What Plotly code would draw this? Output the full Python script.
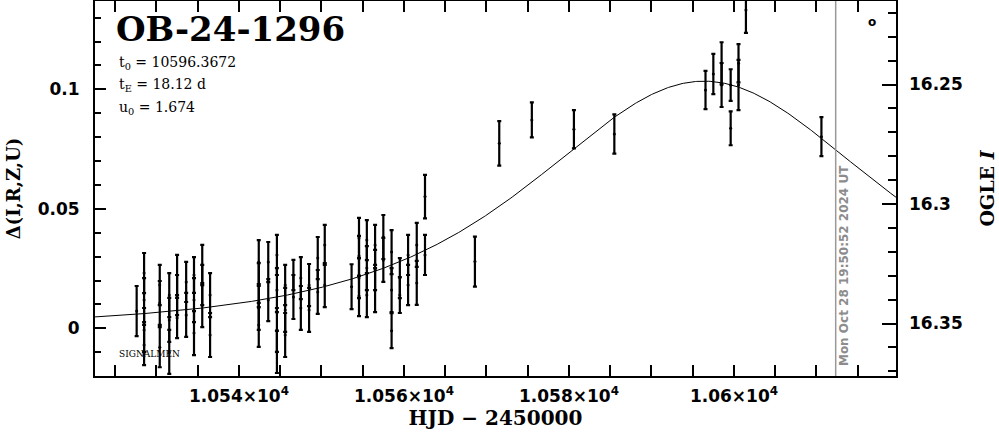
import numpy as np
import plotly.graph_objects as go

# ---------------- data ----------------
event_name = "OB-24-1296"
t0 = 10596.3672
tE = 18.12
u0 = 1.674
now_hjd = 10612.33
now_label = "Mon Oct 28 19:50:52 2024 UT"
mag_base = 16.352

hjd = [
    10527.6,
    10528.5, 10528.5, 10528.5, 10528.5,
    10530.4, 10530.4, 10530.4,
    10531.55, 10531.55, 10531.55,
    10532.5, 10532.5, 10532.5,
    10533.6, 10533.6,
    10534.55, 10534.55, 10534.55,
    10535.55, 10535.55, 10535.55,
    10536.5, 10536.5,
    10542.4, 10542.4, 10542.4, 10542.4,
    10543.55, 10543.55,
    10544.6, 10544.6, 10544.6, 10544.6,
    10545.6, 10545.6, 10545.6,
    10546.6, 10546.6,
    10547.5, 10547.5,
    10548.5, 10548.5,
    10549.55, 10549.55,
    10550.4, 10550.4,
    10553.65,
    10554.55, 10554.55, 10554.55, 10554.55,
    10555.5, 10555.5, 10555.5,
    10556.5, 10556.5, 10556.5,
    10557.5, 10557.5,
    10558.5, 10558.5, 10558.5,
    10559.5, 10559.5,
    10560.5, 10560.5,
    10561.55, 10561.55,
    10562.55, 10562.55,
    10568.6, 10571.55, 10575.5, 10580.6, 10585.5,
    10596.55, 10597.5, 10598.5, 10598.5, 10599.6, 10599.6,
    10600.55, 10600.55, 10601.45, 10610.6,
]
delta = [
    0.0072,
    0.0231, 0.0118, -0.0007, -0.0070,
    0.0181, 0.0106, -0.0079,
    0.0139, 0.0035, -0.0099,
    0.0223, 0.0139, 0.0043,
    0.0194, 0.0056,
    0.0223, 0.0118, -0.0020,
    0.0265, 0.0181, 0.0097,
    0.0139, -0.0028,
    0.0277, 0.0181, 0.0085, 0.0014,
    0.0277, 0.0118,
    0.0307, 0.0160, -0.0007, -0.0099,
    0.0181, 0.0077, -0.0028,
    0.0223, 0.0131,
    0.0210, 0.0085,
    0.0181, 0.0077,
    0.0294, 0.0152,
    0.0349, 0.0181,
    0.0174,
    0.0378, 0.0303, 0.0210, 0.0135,
    0.0369, 0.0252, 0.0139,
    0.0349, 0.0244, 0.0160,
    0.0382, 0.0286,
    0.0319, 0.0160, -0.0010,
    0.0210, 0.0139,
    0.0307, 0.0181,
    0.0349, 0.0190,
    0.0307, 0.0551,
    0.0279, 0.0774, 0.0872, 0.0833, 0.0813,
    0.0997, 0.1064, 0.1109, 0.1018, 0.1018, 0.0837,
    0.1109, 0.1018, 0.1332, 0.0802,
]
err = [
    0.0105,
    0.0084, 0.0092, 0.0092, 0.0084,
    0.0084, 0.0092, 0.0084,
    0.0092, 0.0092, 0.0092,
    0.0084, 0.0084, 0.0084,
    0.0084, 0.0092,
    0.0075, 0.0092, 0.0092,
    0.0084, 0.0084, 0.0092,
    0.0092, 0.0092,
    0.0092, 0.0092, 0.0092, 0.0092,
    0.0084, 0.0088,
    0.0084, 0.0092, 0.0092, 0.0088,
    0.0084, 0.0092, 0.0092,
    0.0063, 0.0092,
    0.0088, 0.0092,
    0.0088, 0.0092,
    0.0088, 0.0092,
    0.0084, 0.0092,
    0.0094,
    0.0084, 0.0084, 0.0084, 0.0084,
    0.0084, 0.0092, 0.0092,
    0.0084, 0.0084, 0.0092,
    0.0092, 0.0092,
    0.0092, 0.0092, 0.0073,
    0.0084, 0.0075,
    0.0084, 0.0084,
    0.0092, 0.0092,
    0.0084, 0.0091,
    0.0105, 0.0093, 0.0073, 0.0080, 0.0082,
    0.0080, 0.0084, 0.0088, 0.0092, 0.0066, 0.0071,
    0.0080, 0.0105, 0.0096, 0.0082,
]

x_range = [10522.55, 10619.64]
y_range = [-0.01996, 0.13695]
x_tickvals = [10540, 10560, 10580, 10600]
x_ticktext = ["1.054×10<sup>4</sup>", "1.056×10<sup>4</sup>",
              "1.058×10<sup>4</sup>", "1.06×10<sup>4</sup>"]
y_tickvals = [0, 0.05, 0.1]
y_ticktext = ["0", "0.05", "0.1"]
y2_tickvals = [16.25, 16.3, 16.35]
y2_ticktext = ["16.25", "16.3", "16.35"]

# ---------------- model (Paczynski curve from the stated parameters) ----------------
tm = np.linspace(x_range[0], x_range[1], 600)
u = np.sqrt(u0 ** 2 + ((tm - t0) / tE) ** 2)
A = (u ** 2 + 2) / (u * np.sqrt(u ** 2 + 4))
model = 2.5 * np.log10(A)

TICKFONT = dict(family="DejaVu Sans", size=17, color="black", weight="bold")
SERIF = "DejaVu Serif"

fig = go.Figure()
fig.add_trace(go.Scatter(
    x=tm, y=model, mode="lines",
    line=dict(color="black", width=1), hoverinfo="skip", showlegend=False,
))
fig.add_trace(go.Scatter(
    x=hjd, y=delta, mode="markers",
    marker=dict(color="black", size=3),
    error_y=dict(type="data", array=err, visible=True,
                 color="black", thickness=2.2, width=2),
    showlegend=False,
))
# invisible trace to activate the magnitude axis
fig.add_trace(go.Scatter(
    x=[x_range[0]], y=[mag_base], yaxis="y2", mode="markers",
    marker=dict(opacity=0), hoverinfo="skip", showlegend=False,
))

fig.add_shape(type="line", xref="x", yref="paper",
              x0=now_hjd, x1=now_hjd, y0=0, y1=1,
              line=dict(color="#999999", width=1.5))

fig.add_annotation(x=now_hjd, xref="x", y=0.295, yref="paper",
                   text=now_label, textangle=-90, showarrow=False,
                   xanchor="center", yanchor="middle", xshift=9,
                   font=dict(family="DejaVu Sans", size=12, color="#8c8c8c",
                             weight="bold"))

fig.add_annotation(x=0.024, xref="paper", y=0.925, yref="paper",
                   text=event_name, showarrow=False, xanchor="left",
                   yanchor="middle",
                   font=dict(family=SERIF, size=34, color="black",
                             weight="bold"))

param_lines = [
    f"t<sub>0</sub> = {t0:.4f}",
    f"t<sub>E</sub> = {tE:.2f} d",
    f"u<sub>0</sub> = {u0:.3f}",
]
for i, txt in enumerate(param_lines):
    fig.add_annotation(x=0.0275, xref="paper", y=0.835 - i * 0.06, yref="paper",
                       text=txt, showarrow=False, xanchor="left",
                       yanchor="middle",
                       font=dict(family=SERIF, size=14, color="black"))

fig.add_annotation(x=0.028, xref="paper", y=0.058, yref="paper",
                   text="SIGNALMEN", showarrow=False, xanchor="left",
                   yanchor="middle",
                   font=dict(family=SERIF, size=9, color="black"))

fig.add_annotation(x=0.970, xref="paper", y=0.945, yref="paper",
                   text="o", showarrow=False, xanchor="center",
                   yanchor="middle",
                   font=dict(family="DejaVu Sans", size=12, color="black",
                             weight="bold"))

fig.update_layout(
    width=999, height=434,
    margin=dict(l=95, r=103, t=1, b=58, autoexpand=False),
    paper_bgcolor="white", plot_bgcolor="white",
    xaxis=dict(
        range=x_range, tickvals=x_tickvals, ticktext=x_ticktext,
        ticks="inside", ticklen=11, tickwidth=2, tickcolor="black",
        showline=True, linecolor="black", linewidth=2, mirror="allticks",
        showgrid=False, zeroline=False, tickfont=TICKFONT,
        ticklabelstandoff=4,
        minor=dict(dtick=5, tick0=10540, ticks="inside", ticklen=6,
                   tickwidth=2, tickcolor="black", showgrid=False),
        title=dict(text="HJD − 2450000", standoff=6,
                   font=dict(family=SERIF, size=20, color="black",
                             weight="bold")),
    ),
    yaxis=dict(
        range=y_range, tickvals=y_tickvals, ticktext=y_ticktext,
        ticks="inside", ticklen=11, tickwidth=2, tickcolor="black",
        showline=True, linecolor="black", linewidth=2, mirror=True,
        showgrid=False, zeroline=False, tickfont=TICKFONT,
        ticklabelstandoff=10,
        minor=dict(dtick=0.01, tick0=0, ticks="inside", ticklen=6,
                   tickwidth=2, tickcolor="black", showgrid=False),
        title=dict(text="Δ(I,R,Z,U)", standoff=12,
                   font=dict(family=SERIF, size=18, color="black",
                             weight="bold")),
    ),
    yaxis2=dict(
        overlaying="y", side="right",
        range=[mag_base - y_range[0], mag_base - y_range[1]],
        tickvals=y2_tickvals, ticktext=y2_ticktext,
        ticks="inside", ticklen=14, tickwidth=2, tickcolor="black",
        showline=False, showgrid=False, zeroline=False, tickfont=TICKFONT,
        ticklabelstandoff=12,
        minor=dict(dtick=0.01, tick0=16.25, ticks="inside", ticklen=8,
                   tickwidth=2, tickcolor="black", showgrid=False),
        title=dict(text="OGLE <i>I</i>", standoff=18,
                   font=dict(family=SERIF, size=19, color="black",
                             weight="bold")),
    ),
)

fig.write_html("out.html",
               config={"displayModeBar": False},
               post_script="document.body.style.margin='0';"
                           "document.body.style.padding='0';")
